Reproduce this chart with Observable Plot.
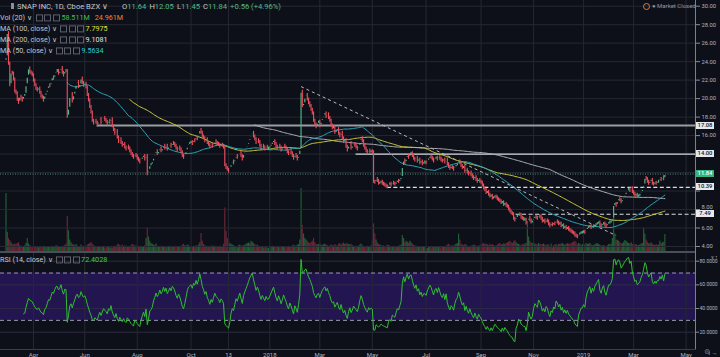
<!DOCTYPE html>
<html><head><meta charset="utf-8">
<script src="https://cdn.jsdelivr.net/npm/d3@7"></script>
<script src="https://cdn.jsdelivr.net/npm/@observablehq/plot@0.6"></script>
<style>
body{margin:0;background:#0e1019;}
#wrap{position:relative;width:720px;height:357px;overflow:hidden;background:#0e1019;font-family:Roboto,"Noto Sans",sans-serif;}
#wrap svg{position:absolute;left:0;}
.t{position:absolute;white-space:nowrap;line-height:1;transform:translateY(-50%);}
.ic{display:inline-block;width:5px;height:5px;border:1px solid #5d606b;margin-right:1.5px;vertical-align:-1px;}
.pbox{position:absolute;left:696px;width:18px;height:7px;font-size:5.8px;line-height:7px;text-align:center;font-weight:500;}
</style></head>
<body><div id="wrap"></div>
<script>
// ---------- data ----------
const holidays = ["2017-04-14","2017-05-29","2017-07-04","2017-09-04","2017-11-23","2017-12-25","2018-01-01","2018-01-15","2018-02-19","2018-03-30","2018-05-28","2018-07-04","2018-09-03","2018-11-22","2018-12-05","2018-12-25","2019-01-01","2019-01-21","2019-02-18","2019-04-19"];
const firstDay = "2017-03-02";
const lastAxisDay = "2019-05-01";
const firstOpen = 24.00;

const close2017 = [
24.48,27.09,23.77,21.44,22.81,22.71,22.07,20.77,20.58,19.89,19.54,20.19,20.02,19.78,20.29,20.42,21.46,22.38,23.27,22.85,22.71,22.53,
21.95,21.46,21.05,20.88,21.10,20.64,20.22,20.10,19.78,20.35,20.52,20.95,21.42,21.34,21.78,22.30,22.15,22.61,22.98,
23.00,22.70,22.90,23.30,22.80,22.50,23.00,22.98,18.05,18.90,20.17,20.50,19.69,20.35,20.85,21.51,21.80,21.25,21.43,22.17,21.70,21.39,
21.60,21.20,20.40,19.80,19.10,18.50,17.60,17.30,17.60,17.40,17.10,17.50,17.80,17.30,17.60,17.90,17.70,17.50,17.20,17.60,17.40,17.77,
17.00,16.60,16.20,16.50,15.80,15.30,15.60,15.20,14.90,15.10,14.70,14.50,14.80,14.60,14.30,14.00,13.80,13.60,13.90,13.77,
13.50,13.30,13.10,13.40,13.60,13.80,13.40,13.80,11.83,12.20,12.80,12.90,13.10,13.60,13.90,14.30,14.00,14.20,14.60,14.30,14.50,14.90,14.60,
14.90,14.50,14.70,15.00,14.80,15.20,15.10,14.90,14.60,14.40,14.70,14.50,14.20,13.80,13.60,13.90,14.30,14.80,15.10,15.20,
15.30,15.10,15.50,15.40,15.80,15.60,16.00,16.60,16.30,15.90,15.70,15.40,15.60,15.20,15.00,14.70,15.00,14.80,15.10,15.40,15.20,15.10,
15.00,14.80,15.00,14.90,14.70,12.80,12.50,12.30,12.10,12.40,12.90,13.20,13.00,13.40,13.80,13.60,13.90,14.20,13.80,13.40,14.00,
14.30,14.60,14.90,15.30,15.70,16.00,16.30,15.90,15.60,15.20,15.50,15.30,14.90,14.60,14.90,14.70,14.50,14.80,14.60,14.61];
const close2018 = [
14.80,15.00,15.20,15.40,15.10,14.80,14.60,14.90,14.70,14.40,14.60,14.90,14.70,14.50,14.20,14.00,14.30,14.10,13.80,13.50,13.90,
13.70,13.40,13.80,14.46,20.75,19.20,19.40,20.10,20.40,19.90,19.50,19.20,18.80,18.40,17.60,17.20,16.90,17.40,17.50,
17.00,17.50,17.90,18.20,18.40,18.00,18.30,17.90,17.60,17.10,16.80,16.90,16.30,16.50,16.70,16.20,15.90,16.30,15.70,15.30,15.50,
14.80,14.40,14.90,15.20,14.60,14.80,15.10,14.90,14.70,14.50,14.80,15.30,15.70,15.40,14.90,14.60,14.30,14.10,14.40,14.20,14.30,
14.20,11.00,10.90,11.30,11.10,10.80,10.90,11.00,10.80,10.70,10.60,10.50,10.40,10.70,10.80,10.60,10.90,10.80,10.70,10.90,11.10,11.00,
11.20,11.40,12.60,13.30,13.00,13.50,13.90,13.60,14.00,14.10,13.80,13.50,13.30,13.60,13.20,13.40,13.00,13.20,12.90,13.10,13.10,
13.00,13.30,13.50,13.70,13.60,13.40,13.20,13.50,13.60,13.40,13.70,13.50,13.30,13.20,13.40,13.10,13.40,12.90,12.60,12.40,12.60,
12.50,12.30,12.60,12.80,12.90,13.20,13.00,12.70,12.50,12.60,12.10,12.30,12.00,11.80,12.00,11.70,11.50,11.30,11.50,11.20,11.00,11.20,11.00,
10.90,10.60,10.30,10.10,9.80,9.90,9.60,9.40,9.50,9.20,9.30,9.40,9.30,9.10,9.00,8.90,8.70,8.80,8.50,
8.60,8.40,8.30,8.00,7.80,7.60,7.50,7.00,6.80,7.20,7.30,7.50,7.40,7.10,7.00,6.90,6.90,6.50,6.70,7.10,6.80,6.60,6.70,
7.00,7.20,7.10,7.00,7.30,7.20,7.00,6.70,6.80,6.60,6.80,6.70,6.40,6.20,6.40,6.30,6.50,6.40,6.70,6.60,6.40,
6.50,6.20,6.30,6.00,6.10,5.90,6.00,5.80,5.70,5.60,5.50,5.40,5.20,5.10,5.00,5.30,5.40,5.50,5.51];
const close2019 = [
5.60,5.50,5.80,6.00,6.10,6.20,6.00,6.20,6.10,6.30,6.40,6.50,6.60,6.30,6.20,6.40,6.50,6.30,6.20,6.40,6.60,
6.60,6.70,6.90,8.50,8.60,8.40,8.90,9.10,9.00,8.80,9.00,9.30,9.60,9.80,10.10,10.20,10.00,10.30,9.90,
9.70,9.50,9.60,9.40,9.50,9.60,9.90,10.10,10.60,11.40,11.30,11.00,10.80,11.00,11.20,10.80,10.70,10.90,10.80,11.00,11.00,
11.30,11.20,11.50,11.28,11.84];

const vol2017 = [
200,66,45,38,30,25,22,26,24,28,30,20,18,17,16,20,28,45,26,20,17,15,
18,16,15,14,13,16,17,15,18,14,13,15,17,14,16,18,15,17,20,
19,17,15,16,14,18,20,26,121,72,40,30,25,22,20,24,19,17,16,22,18,15,
16,18,22,25,28,30,26,20,18,17,15,16,14,13,15,14,12,13,15,14,12,13,
12,14,18,16,22,25,20,18,22,16,20,18,15,17,16,20,24,22,18,20,
17,16,18,15,14,16,20,45,80,50,35,28,25,22,20,26,18,17,16,18,15,14,16,
15,14,16,18,15,17,14,16,18,15,14,16,18,22,25,20,18,22,20,17,
16,15,18,17,20,18,22,30,62,35,25,20,18,16,15,18,17,20,16,18,17,15,
16,18,15,17,25,150,70,45,35,28,25,22,20,18,17,12,20,22,18,20,19,
22,25,28,30,26,35,32,28,24,20,22,18,16,17,14,12,13,15,12,11];
const vol2018 = [
14,16,18,17,15,14,16,15,13,14,16,15,14,13,16,18,15,17,20,22,18,
20,22,24,40,217,90,60,45,40,35,30,28,32,35,45,30,25,22,24,
26,22,20,24,25,22,20,18,19,22,21,18,24,20,18,25,28,22,26,30,24,
28,26,24,22,25,20,18,17,19,16,18,22,26,20,18,17,16,18,15,17,20,
35,95,60,40,30,25,22,20,18,20,17,18,22,20,18,17,16,18,15,17,16,18,
20,22,55,45,30,35,32,28,35,30,25,22,20,18,17,16,15,17,14,16,15,
12,10,14,15,13,14,16,15,14,13,15,14,13,16,15,17,18,22,25,20,18,
20,18,22,25,28,60,40,25,22,20,24,22,18,17,16,19,20,22,21,18,17,19,20,
22,25,28,24,26,22,20,25,21,24,20,18,19,22,25,28,24,22,27,
25,28,30,32,35,30,28,34,38,30,26,24,22,20,24,22,26,28,97,50,35,30,28,
30,26,24,22,28,25,22,24,26,22,20,24,22,18,26,12,20,22,24,20,25,
24,26,28,24,22,25,27,26,24,28,30,32,35,30,22,28,25,20,24];
const vol2019 = [
25,22,28,24,26,28,22,20,21,24,26,28,24,22,20,19,21,18,17,20,24,
22,26,45,114,60,40,38,35,30,28,26,32,38,35,30,28,26,30,24,
25,22,24,20,21,22,26,28,79,60,40,32,28,26,30,24,22,21,24,20,22,
35,28,30,32,58.511];

const priceTicks = [4,6,8,10,12,14,16,18,20,22,24,26,28,30];
const priceTickLabels = [4,6,16,18,20,22,24,26,28,30];
const priceTickRaised = [8];
const rsiTicks = [20,40,60,80];
const rsiBand = [30,70];
const monthStarts = ["2017-04-01","2017-06-01","2017-08-01","2017-10-01","2017-11-13","2018-01-01","2018-03-01","2018-05-01","2018-07-01","2018-09-01","2018-11-01","2019-01-01","2019-03-01","2019-05-01"];
const monthLabels = ["Apr","Jun","Aug","Oct","13","2018","Mar","May","Jul","Sep","Nov","2019","Mar","May"];
const levelPrices = [17.08,14.00,10.39,7.49];
const levelStarts = ["2017-06-15","2018-04-12","2018-05-17","2018-10-12"];
const trendDates = ["2018-02-07","2019-02-08"];
const trendPrices = [21.3,5.19];
const lastPrice = 11.84;
const barsBeforeFirst = 4.4, barsAfterLast = 24.5;

// ---------- build ----------
const days = [];
for (let t = Date.parse(firstDay+"T00:00:00Z"); t <= Date.parse(lastAxisDay+"T00:00:00Z"); t += 864e5) {
  const d = new Date(t), wd = d.getUTCDay(), s = d.toISOString().slice(0,10);
  if (wd !== 0 && wd !== 6 && !holidays.includes(s)) days.push(s);
}
const idxOf = s => days.findIndex(d => d >= s);
const closes = [...close2017, ...close2018, ...close2019];
const vols = [...vol2017, ...vol2018, ...vol2019];
const bars = closes.map((c,i) => ({i, o: i ? closes[i-1] : firstOpen, c, v: vols[i]}));
const N = bars.length;
const xView = [-barsBeforeFirst, N - 1 + barsAfterLast];
const tickIdx = monthStarts.map(idxOf);
const tickLabel = new Map(tickIdx.map((k,j) => [k, monthLabels[j]]));

function sma(c, n){const out=[];let s=0;for(let i=0;i<c.length;i++){s+=c[i];if(i>=n)s-=c[i-n];if(i>=n-1)out.push({i,v:s/n});}return out;}
function rsi(c, n){const out=[];let g=0,l=0;for(let i=1;i<=n;i++){const d=c[i]-c[i-1];if(d>0)g+=d;else l-=d;}g/=n;l/=n;out.push({i:n,v:100-100/(1+g/l)});
  for(let i=n+1;i<c.length;i++){const d=c[i]-c[i-1];g=(g*(n-1)+Math.max(d,0))/n;l=(l*(n-1)+Math.max(-d,0))/n;out.push({i,v:l===0?100:100-100/(1+g/l)});}return out;}
const ma50 = sma(closes,50), ma100 = sma(closes,100), ma200 = sma(closes,200);
const rsi14 = rsi(closes,14);
const levels = levelPrices.map((p,k) => ({p, s: idxOf(levelStarts[k])}));
const trend = [{x1: idxOf(trendDates[0]), y1: trendPrices[0], x2: idxOf(trendDates[1]), y2: trendPrices[1]}];

const UP="#53b987", DOWN="#eb4d5c", GRID="#242833";
const X = {domain: xView, range: [0, 695], axis: null};
const base = {width:720, marginLeft:0, marginRight:25, marginTop:0, marginBottom:0,
  style:{background:"transparent", color:"#b2b5be", fontFamily:"Roboto, sans-serif", overflow:"visible"}};
const dir = d => d.c >= d.o ? UP : DOWN;

const volChart = Plot.plot({...base, height:252, x:X, y:{domain:[0,245], range:[251,180], axis:null},
  marks:[Plot.ruleX(bars,{x:"i", y1:0, y2:"v", stroke: d => d.c >= d.o ? "#2f8f45" : "#a8334a", strokeOpacity:0.62, strokeWidth:1.15})]});

const priceChart = Plot.plot({...base, height:252, x:X, y:{domain:[4,30], range:[246,5.7], axis:null},
  marks:[
    Plot.ruleY(priceTicks,{stroke:GRID}),
    Plot.ruleX(tickIdx,{stroke:GRID}),
    Plot.ruleY([lastPrice],{stroke:"#4e8a72", strokeDasharray:"1,1.5", strokeWidth:1}),
    Plot.ruleY([levels[0]],{y:"p", x1:"s", x2:()=>xView[1], stroke:"#9a9ca3", strokeWidth:2}),
    Plot.ruleY([levels[1]],{y:"p", x1:"s", x2:()=>xView[1], stroke:"#d6d8de", strokeWidth:1.2}),
    Plot.ruleY(levels.slice(2),{y:"p", x1:"s", x2:()=>xView[1], stroke:"#dcdde2", strokeWidth:1.2, strokeDasharray:"4,2.5"}),
    Plot.link(trend,{x1:"x1",y1:"y1",x2:"x2",y2:"y2", stroke:"#b9bbc2", strokeWidth:1, strokeDasharray:"3,3"}),
    Plot.lineY(ma200,{x:"i", y:"v", stroke:"#b0b2b8", strokeWidth:1}),
    Plot.lineY(ma100,{x:"i", y:"v", stroke:"#caca38", strokeWidth:1}),
    Plot.lineY(ma50,{x:"i", y:"v", stroke:"#2ca8bb", strokeWidth:1}),
    Plot.ruleX(bars,{x:"i", y1:"o", y2:"c", stroke:dir, strokeWidth:1.15, insetTop:-1.5, insetBottom:-1.5}),
    Plot.axisY(priceTicks,{anchor:"right", tickSize:4, tickPadding:2, fontSize:5.8, stroke:"#8a8d96", tickFormat:d=>priceTickLabels.includes(d)?d.toFixed(2):""}),
    Plot.axisY(priceTickRaised,{anchor:"right", tickSize:0, tickPadding:6, fontSize:5.8, dy:-2, tickFormat:d=>d.toFixed(2)})
  ]});

const rsiChart = Plot.plot({...base, height:105, marginBottom:8, x:X, y:{domain:[20,80], range:[79.7,8.7], axis:null},
  marks:[
    Plot.rect([rsiBand],{x1:()=>xView[0], x2:()=>xView[1], y1:d=>d[0], y2:d=>d[1], fill:"#231650"}),
    Plot.ruleY(rsiTicks,{stroke:"#2c2a45"}),
    Plot.ruleX(tickIdx,{stroke:GRID}),
    Plot.ruleY(rsiBand,{stroke:"#9b97b5", strokeDasharray:"4,3", strokeWidth:1}),
    Plot.lineY(rsi14,{x:"i", y:"v", stroke:"#2fbf2f", strokeWidth:1}),
    Plot.axisY(rsiTicks,{anchor:"right", tickSize:3, tickPadding:1, fontSize:5, stroke:"#8a8d96", tickFormat:d=>d.toFixed(4)}),
    Plot.axisX(tickIdx,{anchor:"bottom", tickSize:0, tickPadding:3, fontSize:6, tickFormat:d=>tickLabel.get(d)})
  ]});

const wrap = document.getElementById("wrap");
volChart.style.top="0px"; priceChart.style.top="0px"; rsiChart.style.top="252px";
wrap.appendChild(volChart); wrap.appendChild(priceChart); wrap.appendChild(rsiChart);

function div(css){const e=document.createElement("div");e.style.cssText="position:absolute;"+css;wrap.appendChild(e);return e;}
div("left:0;top:251px;width:695px;height:1.5px;background:#4a4e5a;");
div("left:695px;top:0;width:1px;height:349px;background:#7d808a;");
div("left:0;top:348.5px;width:696px;height:1px;background:#3a3e4a;");

const LG="#c3c5cc";
function line(x,y,size,parts){const e=document.createElement("div");e.className="t";e.style.left=x+"px";e.style.top=y+"px";e.style.fontSize=size+"px";
  for(const [s,c,m] of parts){const sp=document.createElement("span");if(s==="#icons"){sp.innerHTML='<span class="ic"></span><span class="ic"></span><span class="ic"></span>';}else sp.textContent=s;
    sp.style.color=c||LG; if(m!=null) sp.style.marginRight=m+"px"; e.appendChild(sp);} wrap.appendChild(e); return e;}
div("left:11px;top:3px;width:3px;height:6px;background:#8c8f98;");
line(17,6.5,7.6,[["SNAP INC, 1D, Cboe BZX \u2228",LG,14],["O",LG],["11.64","#53b987",3],["H",LG],["12.05","#53b987",3],["L",LG],["11.45","#53b987",3],["C",LG],["11.84","#53b987",3],["+0.56 (+4.96%)","#53b987"]]);
line(0,17.5,7.2,[["Vol (20) \u2228",LG,4],["#icons"],["58.511M","#3fbf4f",5],["24.961M","#e8883a"]]);
line(0,28.7,7.2,[["MA (100, close) \u2228",LG,3],["#icons"],["7.7975","#e2e23a"]]);
line(0,39.8,7.2,[["MA (200, close) \u2228",LG,3],["#icons"],["9.1081","#e4e4e8"]]);
line(0,51,7.2,[["MA (50, close) \u2228",LG,3],["#icons"],["9.5634","#2ec8d2"]]);
line(0,260,7.2,[["RSI (14, close) \u2228",LG,3],["#icons"],["72.4028","#3fd03f"]]);
div("left:643px;top:2.5px;width:5px;height:5px;border:1px solid #e07b39;border-radius:50%;");
line(652,5.5,6,[["\u25CF Market Closed","#8f929b"]]);
line(704,352,7,[["\u2699","#6f727b"]]);

const ys = priceChart.scale("y");
function pbox(v,bg,fg){const e=document.createElement("div");e.className="pbox";e.textContent=v.toFixed(2);
  e.style.top=(ys.apply(v)-3.5)+"px";e.style.background=bg;e.style.color=fg;wrap.appendChild(e);}
levelPrices.forEach(v=>pbox(v,"#e6e8ee","#131722"));
pbox(lastPrice,"#3ab27d","#ffffff");
</script></body></html>
